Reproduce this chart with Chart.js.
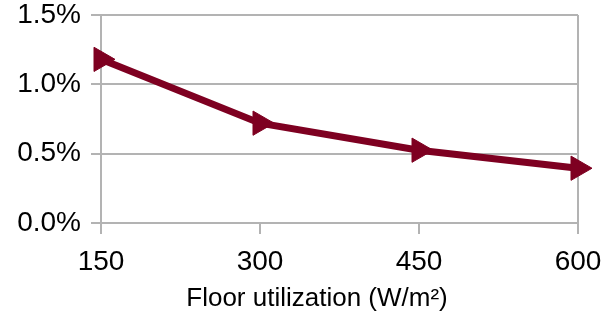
<!DOCTYPE html>
<html>
<head>
<meta charset="utf-8">
<script src="https://cdn.jsdelivr.net/npm/chart.js@4"></script>
<style>
  html, body { margin: 0; padding: 0; background: #fff; }
  #wrap { width: 616px; height: 318px; }
</style>
</head>
<body>
<div id="wrap"><canvas id="chart" width="616" height="318"></canvas></div>
<script>
const floorLoads = [150, 300, 450, 600];
const shareValues = [1.18, 0.72, 0.525, 0.395];
const yTicks = [0, 0.5, 1.0, 1.5];
const xTitle = 'Floor utilization (W/m²)';

const gridGrey = '#b3b3b3';
const lineRed = '#7e0021';

// axis title sits a bit left of the plot centre in the original, so draw it by hand
const xTitlePlugin = {
    id: 'xTitle',
    afterDraw(chart) {
        const c = chart.ctx;
        c.save();
        c.font = '26px "Liberation Sans"';
        c.fillStyle = '#000';
        c.textAlign = 'center';
        c.textBaseline = 'middle';
        c.fillText(xTitle, 317, 299);
        c.restore();
    }
};

const ctx = document.getElementById('chart');
new Chart(ctx, {
    type: 'line',
    data: {
        datasets: [{
            data: floorLoads.map((x, i) => ({ x: x, y: shareValues[i] })),
            borderColor: lineRed,
            backgroundColor: lineRed,
            borderWidth: 7,
            pointStyle: 'triangle',
            rotation: 90,
            pointRadius: 14,
            pointHoverRadius: 14,
            pointBorderWidth: 1,
            tension: 0,
            clip: false
        }]
    },
    options: {
        responsive: false,
        animation: false,
        devicePixelRatio: 1,
        layout: { padding: { top: 14, right: 38, left: 0, bottom: 0 } },
        plugins: { legend: { display: false }, tooltip: { enabled: false } },
        scales: {
            x: {
                type: 'linear',
                min: 150,
                max: 600,
                afterBuildTicks: s => { s.ticks = floorLoads.map(v => ({ value: v })); },
                afterFit: s => { s.height = 95; s.paddingLeft = 0; s.paddingRight = 0; },
                grid: {
                    color: c => (c.index === 0 || c.index === floorLoads.length - 1) ? gridGrey : 'rgba(0,0,0,0)',
                    tickColor: gridGrey,
                    lineWidth: 2,
                    tickLength: 11
                },
                border: { color: gridGrey, width: 2 },
                ticks: {
                    color: '#000',
                    font: { family: 'Liberation Sans', size: 28 },
                    padding: 11,
                    maxRotation: 0
                }
            },
            y: {
                min: 0,
                max: 1.5,
                afterBuildTicks: s => { s.ticks = yTicks.map(v => ({ value: v })); },
                afterFit: s => { s.width = 101; s.paddingTop = 0; s.paddingBottom = 0; },
                grid: {
                    color: gridGrey,
                    lineWidth: 2,
                    tickLength: 10
                },
                border: { color: gridGrey, width: 2 },
                ticks: {
                    color: '#000',
                    font: { family: 'Liberation Sans', size: 28 },
                    padding: 10,
                    callback: v => v.toFixed(1) + '%'
                }
            }
        }
    },
    plugins: [xTitlePlugin]
});
</script>
</body>
</html>
